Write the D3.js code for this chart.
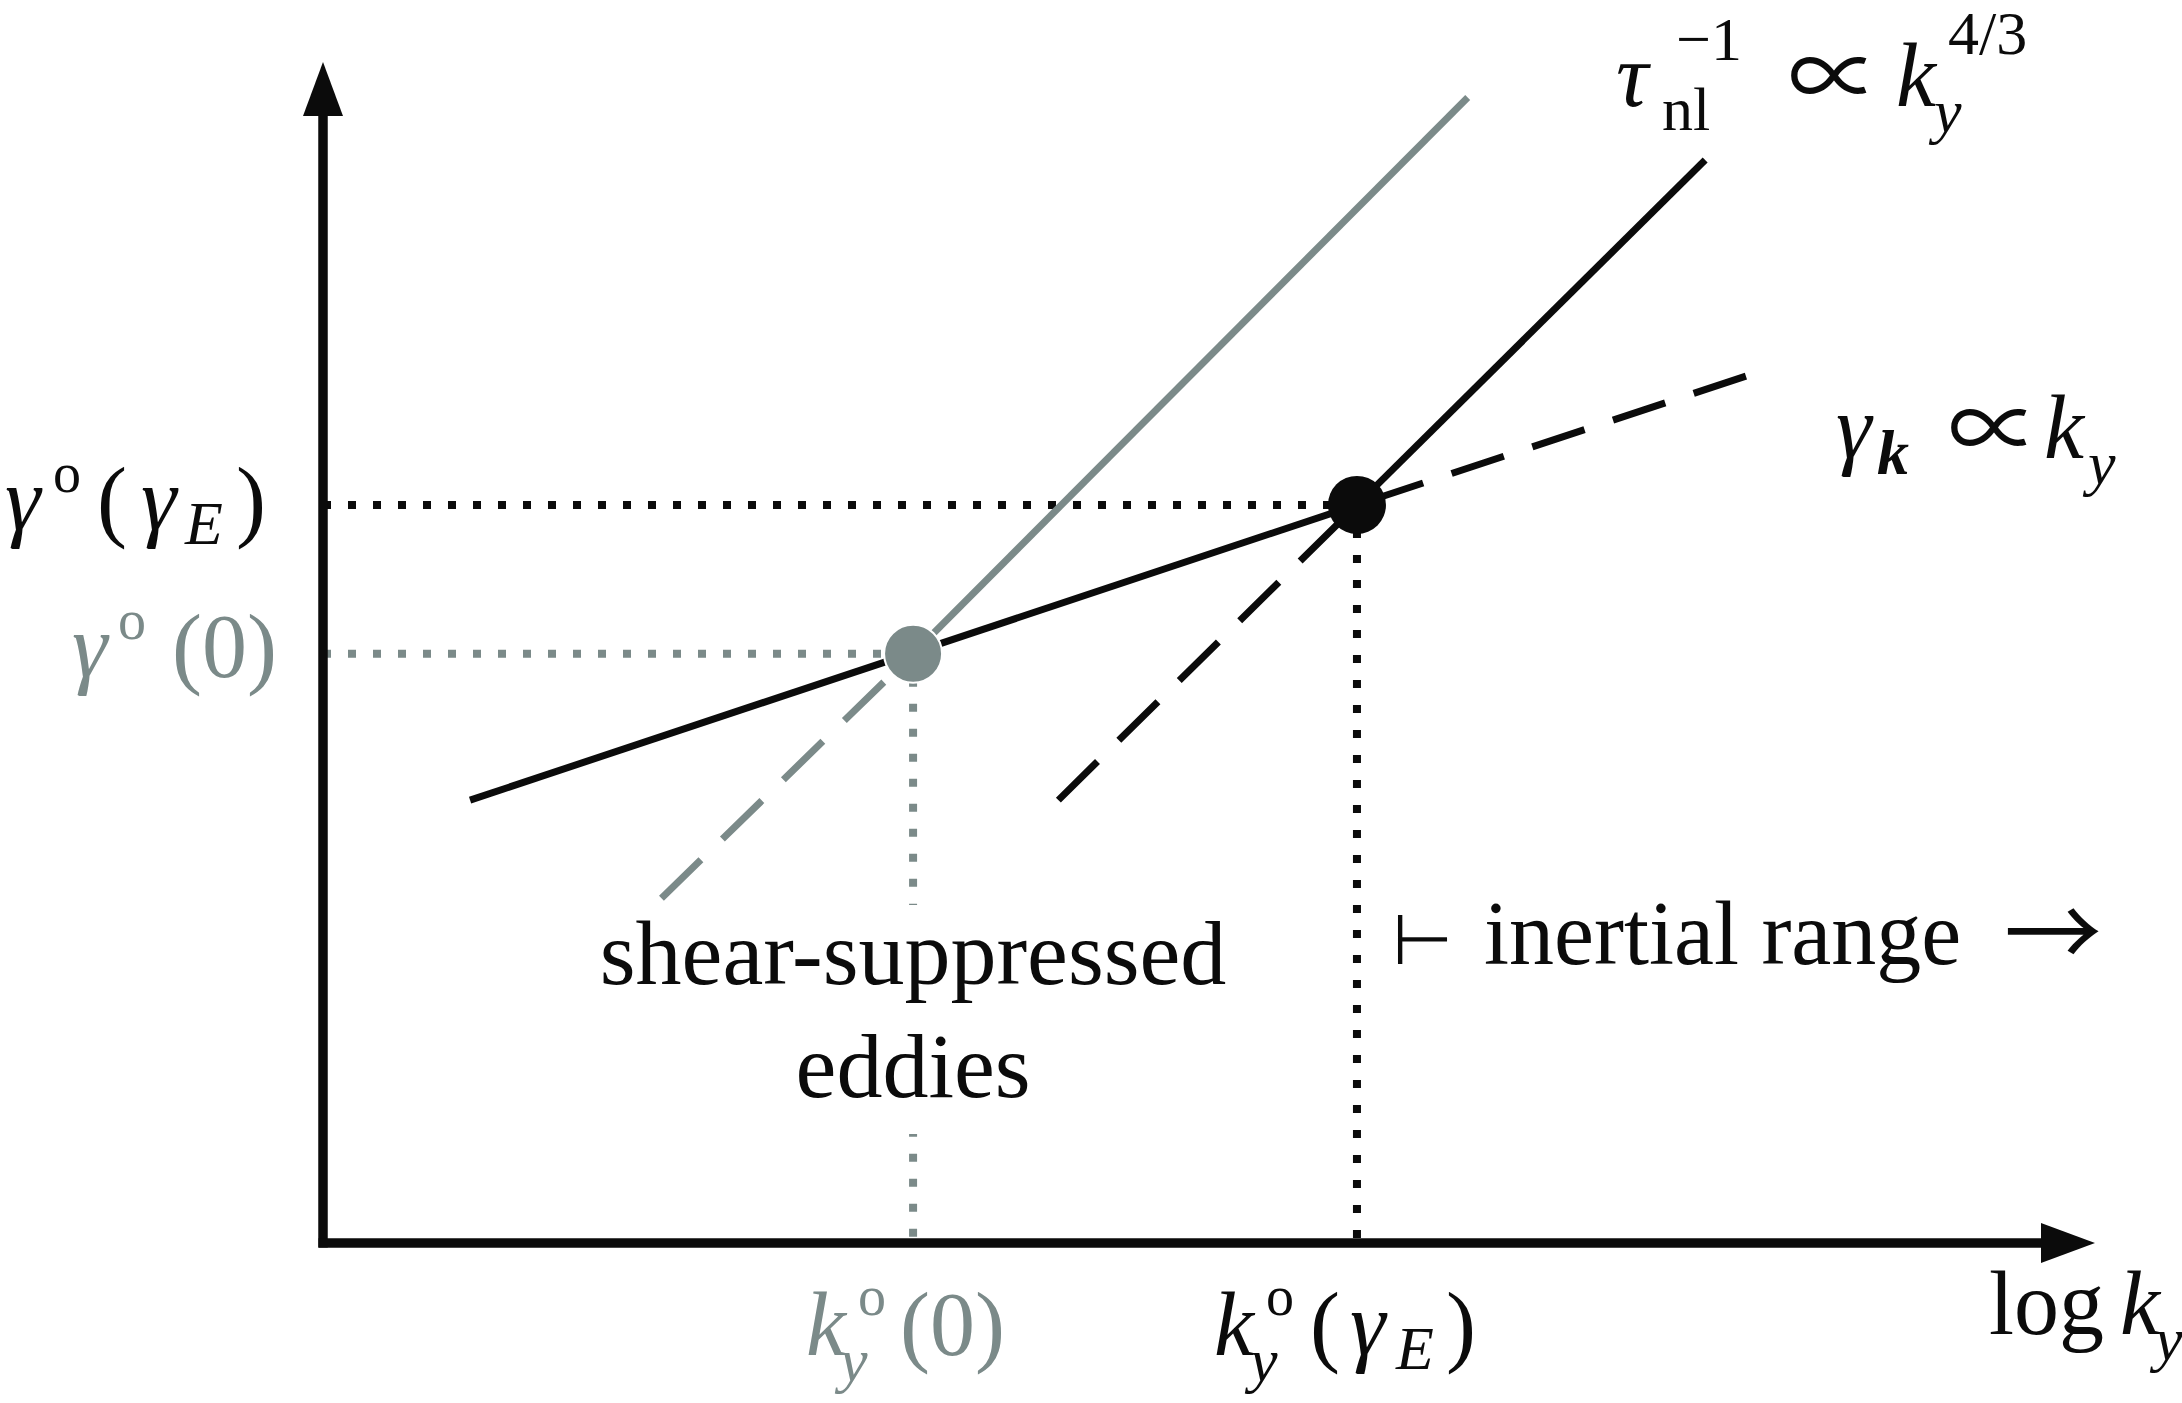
<!DOCTYPE html>
<html>
<head>
<meta charset="utf-8">
<script src="https://cdn.jsdelivr.net/npm/d3@7"></script>
<style>
  html, body { margin: 0; padding: 0; background: #fff; }
  text { font-family: "Liberation Serif", "DejaVu Serif", serif; }
</style>
</head>
<body>
<div id="chart"></div>
<script>
// log k_y / log gamma, normalised so the axes run 0..1
const kDomain = [0, 1];
const gDomain = [0, 1];

// break points: k_y°(0), k_y°(γ_E) and their growth rates
const kBreak = [0.333, 0.5835];
const gBreak = [0.499, 0.625];

// γ_k ∝ k_y  (solid part, dashed continuation)
const shearSolid = [[0.083, 0.375], [0.5835, 0.625]];
const shearDashed = [[0.803, 0.734], [0.5835, 0.625]];
// τ_nl^-1 ∝ k_y^{4/3}, with shear (black) and without (grey)
const nlSolid = [[0.5835, 0.625], [0.780, 0.917]];
const nlDashed = [[0.415, 0.375], [0.5835, 0.625]];
const nlGreySolid = [[0.333, 0.499], [0.646, 0.970]];
const nlGreyDashed = [[0.191, 0.292], [0.333, 0.499]];

const BLACK = "#0b0b0b";
const GREY = "#7b8a89";
const SYM = "Noto Sans CJK JP";
const W = 2182, H = 1403;

const svg = d3.select("#chart").append("svg")
  .attr("width", W)
  .attr("height", H);

const x = d3.scaleLinear().domain(kDomain).range([323, 2095]);
const y = d3.scaleLinear().domain(gDomain).range([1243, 62]);
const line = d3.line().x(d => x(d[0])).y(d => y(d[1]));

// guide lines (dotted)
function dotted(pts, color) {
  svg.append("path")
    .datum(pts)
    .attr("d", line)
    .attr("fill", "none")
    .attr("stroke", color)
    .attr("stroke-width", 8)
    .attr("stroke-dasharray", "8,17");
}
dotted([[kDomain[0], gBreak[1]], [kBreak[1], gBreak[1]]], BLACK);
dotted([[kBreak[1], gBreak[1]], [kBreak[1], gDomain[0]]], BLACK);
dotted([[kDomain[0], gBreak[0]], [kBreak[0], gBreak[0]]], GREY);
dotted([[kBreak[0], gBreak[0]], [kBreak[0], gDomain[0]]], GREY);

// axes with arrow heads
const x0 = x(kDomain[0]), y0 = y(gDomain[0]);
const xEnd = x(kDomain[1]), yEnd = y(gDomain[1]);
const head = 54, half = 20;
svg.append("line")
  .attr("x1", x0).attr("y1", y0 + 4.5)
  .attr("x2", x0).attr("y2", yEnd + head)
  .attr("stroke", BLACK).attr("stroke-width", 9.5);
svg.append("line")
  .attr("x1", x0 - 4.5).attr("y1", y0)
  .attr("x2", xEnd - head).attr("y2", y0)
  .attr("stroke", BLACK).attr("stroke-width", 9.5);
svg.append("path")
  .attr("d", `M${x0},${yEnd}L${x0 - half},${yEnd + head}L${x0 + half},${yEnd + head}Z`)
  .attr("fill", BLACK);
svg.append("path")
  .attr("d", `M${xEnd},${y0}L${xEnd - head},${y0 - half}L${xEnd - head},${y0 + half}Z`)
  .attr("fill", BLACK);

// model curves
function curve(pts, color, dashed) {
  svg.append("path")
    .datum(pts)
    .attr("d", line)
    .attr("fill", "none")
    .attr("stroke", color)
    .attr("stroke-width", 7)
    .attr("stroke-dasharray", dashed ? "55,30" : null);
}
curve(nlGreyDashed, GREY, true);
curve(nlDashed, BLACK, true);
curve(shearDashed, BLACK, true);
curve(nlGreySolid, GREY, false);
curve(shearSolid, BLACK, false);
curve(nlSolid, BLACK, false);

// break points
svg.append("circle")
  .attr("cx", x(kBreak[0])).attr("cy", y(gBreak[0])).attr("r", 29)
  .attr("fill", GREY).attr("stroke", "#fff").attr("stroke-width", 2);
svg.append("circle")
  .attr("cx", x(kBreak[1])).attr("cy", y(gBreak[1])).attr("r", 29)
  .attr("fill", BLACK);

// math-ish labels: each piece placed on its own (x, baseline shift)
function label(y0, parts, color) {
  const t = svg.append("text").attr("y", y0).attr("fill", color || BLACK);
  let shift = 0;
  parts.forEach(p => {
    const sh = p.sh || 0;
    t.append("tspan")
      .attr("x", p.x)
      .attr("dy", sh - shift)
      .attr("font-size", p.size || 90)
      .attr("font-style", p.it ? "italic" : "normal")
      .attr("font-weight", p.b ? "bold" : "normal")
      .style("font-family", p.font || null)
      .text(p.t);
    shift = sh;
  });
}

label(106, [
  { t: "τ", x: 1616, it: true },
  { t: "nl", x: 1662, size: 62, sh: 24 },
  { t: "−1", x: 1676, size: 62, sh: -46 },
  { t: "∝", x: 1788, size: 92, sh: 4, font: SYM },
  { t: "k", x: 1896, it: true },
  { t: "y", x: 1934, it: true, size: 62, sh: 26 },
  { t: "4/3", x: 1948, size: 62, sh: -52 }
]);

label(458, [
  { t: "γ", x: 1836, it: true },
  { t: "k", x: 1877, it: true, b: true, size: 64, sh: 16 },
  { t: "∝", x: 1948, size: 92, sh: 4, font: SYM },
  { t: "k", x: 2044, it: true },
  { t: "y", x: 2088, it: true, size: 62, sh: 26 }
]);

label(530, [
  { t: "γ", x: 5, it: true },
  { t: "o", x: 53, size: 56, sh: -38 },
  { t: "(", x: 97 },
  { t: "γ", x: 141, it: true },
  { t: "E", x: 185, it: true, size: 62, sh: 14 },
  { t: ")", x: 236 }
]);

label(677, [
  { t: "γ", x: 72, it: true },
  { t: "o", x: 118, size: 56, sh: -38 },
  { t: "(0)", x: 172 }
], GREY);

label(1355, [
  { t: "k", x: 806, it: true },
  { t: "y", x: 840, it: true, size: 62, sh: 26 },
  { t: "o", x: 858, size: 56, sh: -40 },
  { t: "(0)", x: 900 }
], GREY);

label(1355, [
  { t: "k", x: 1214, it: true },
  { t: "y", x: 1250, it: true, size: 62, sh: 26 },
  { t: "o", x: 1266, size: 56, sh: -40 },
  { t: "(", x: 1310 },
  { t: "γ", x: 1350, it: true },
  { t: "E", x: 1396, it: true, size: 62, sh: 14 },
  { t: ")", x: 1446 }
]);

label(1334, [
  { t: "log", x: 1989 },
  { t: "k", x: 2120, it: true },
  { t: "y", x: 2155, it: true, size: 62, sh: 26 }
]);

label(964, [
  { t: "⊢", x: 1392, size: 70, font: "DejaVu Sans" },
  { t: "inertial range", x: 1484 },
  { t: "→", x: 2004, size: 98, sh: 4, font: SYM }
]);

// annotation over the grey guide, which breaks around it
const cx = x(kBreak[0]);
svg.append("rect")
  .attr("x", cx - 330).attr("y", 905)
  .attr("width", 660).attr("height", 229)
  .attr("fill", "#fff");
svg.append("text")
  .attr("x", cx).attr("y", 984)
  .attr("text-anchor", "middle")
  .attr("font-size", 92)
  .attr("fill", BLACK)
  .text("shear-suppressed");
svg.append("text")
  .attr("x", cx).attr("y", 1097)
  .attr("text-anchor", "middle")
  .attr("font-size", 92)
  .attr("fill", BLACK)
  .text("eddies");
</script>
</body>
</html>
